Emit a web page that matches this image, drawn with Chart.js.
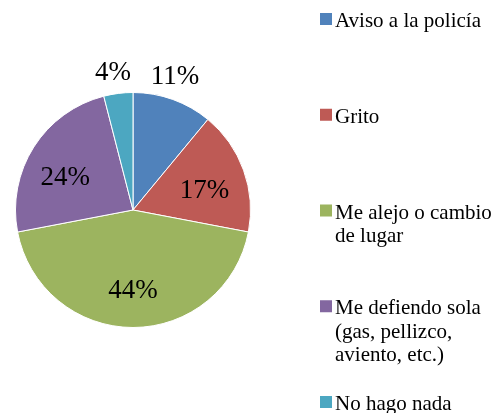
<!DOCTYPE html>
<html>
<head>
<meta charset="utf-8">
<script src="https://cdn.jsdelivr.net/npm/chart.js@4.4.0/dist/chart.umd.min.js"></script>
<style>
  html, body { margin: 0; padding: 0; background: #fff; }
  #wrap { width: 501px; height: 413px; }
</style>
</head>
<body>
<div id="wrap"><canvas id="piechart" width="501" height="413"></canvas></div>
<script>
// categories (already wrapped the way the legend shows them)
const categories = [
    ['Aviso a la policía'],
    ['Grito'],
    ['Me alejo o cambio', 'de lugar'],
    ['Me defiendo sola', '(gas, pellizco,', 'aviento, etc.)'],
    ['No hago nada']
];
const percentages = [11, 17, 44, 24, 4];
const sliceColors = ['#5082BB', '#BE5A55', '#9CB45F', '#8367A0', '#4CA7C1'];

// how far out each % label sits, as a share of the radius
const labelRadius = [1.19, 0.63, 0.69, 0.64, 1.18];
const labelAngleShift = [-0.04, 0.08, 0, -0.12, -0.02];

const pctLabels = {
    id: 'pctLabels',
    afterDatasetsDraw(chart) {
        const ctx = chart.ctx;
        const arcs = chart.getDatasetMeta(0).data;
        ctx.save();
        ctx.font = '27px "Liberation Serif"';
        ctx.fillStyle = '#000';
        ctx.textAlign = 'center';
        ctx.textBaseline = 'middle';
        arcs.forEach((arc, i) => {
            const p = arc.getProps(['x', 'y', 'startAngle', 'endAngle', 'outerRadius'], true);
            const mid = (p.startAngle + p.endAngle) / 2 + labelAngleShift[i];
            const r = p.outerRadius * labelRadius[i];
            ctx.fillText(percentages[i] + '%', p.x + Math.cos(mid) * r, p.y + Math.sin(mid) * r);
        });
        ctx.restore();
    }
};

const sideLegend = {
    id: 'sideLegend',
    afterDraw(chart) {
        const ctx = chart.ctx;
        ctx.save();
        ctx.font = '21px "Liberation Serif"';
        ctx.textBaseline = 'alphabetic';
        ctx.textAlign = 'left';
        categories.forEach((lines, i) => {
            const top = 13 + i * 95.75;
            ctx.fillStyle = sliceColors[i];
            ctx.fillRect(320, top, 12, 12);
            ctx.fillStyle = '#000';
            lines.forEach((line, j) => {
                ctx.fillText(line, 335, top + 14 + j * 23.5);
            });
        });
        ctx.restore();
    }
};

const ctx1 = document.getElementById('piechart').getContext('2d');
const piechart = new Chart(ctx1, {
    type: 'pie',
    data: {
        labels: categories,
        datasets: [{
            data: percentages,
            backgroundColor: sliceColors,
            borderColor: '#ffffff',
            borderWidth: 1,
            hoverOffset: 0
        }]
    },
    options: {
        responsive: false,
        animation: false,
        layout: {
            padding: { left: 15, top: 92, right: 250, bottom: 85 }
        },
        plugins: {
            legend: { display: false },
            tooltip: { enabled: false }
        }
    },
    plugins: [pctLabels, sideLegend]
});
</script>
</body>
</html>
